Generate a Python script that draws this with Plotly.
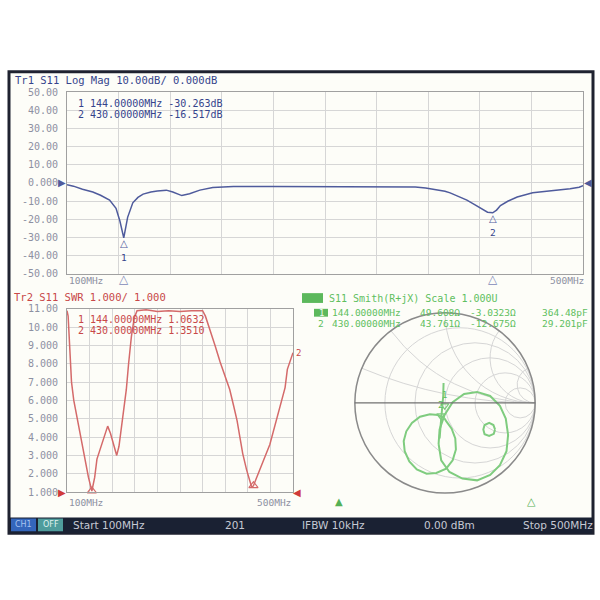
import numpy as np
import plotly.graph_objects as go

# ---------------- data ----------------
# Trace 1: S11 log magnitude (dB) vs frequency (MHz)
freq_logmag = [100, 105, 112, 120, 126, 133, 138, 141, 144, 147, 151, 155, 159, 165, 170, 177, 182, 189, 195,
               203, 213, 229, 260, 300, 340, 370, 378, 386, 393, 397, 404, 410, 416, 422, 426, 430, 433, 436, 442,
               449, 455, 461, 470, 482, 490, 497, 500]
s11_db = [-1.0, -1.8, -3.5, -5.0, -6.8, -9.5, -14, -21, -30.3, -19, -11, -8, -6.2, -5.0, -4.5, -4.0, -5.0, -7.0, -6.0,
          -4.0, -2.5, -2.0, -2.0, -2.0, -2.0, -2.2, -2.8, -3.6, -4.6, -5.5, -7.5, -9.5, -12, -14.6, -16.2, -16.5, -15.0, -12.5, -10,
          -7.8, -6.5, -5.5, -4.8, -4.0, -3.2, -2.4, -1.5]

# Trace 2: SWR vs frequency (MHz)
freq_swr = [100, 102, 105, 108, 112, 117, 123, 128, 132, 138,
            144, 149, 153, 158, 164, 172, 177, 182, 188, 192,
            196, 201, 205, 209, 214, 219, 224, 240, 260, 280,
            300, 320, 340, 345, 353, 362, 371, 380, 388, 395,
            401, 406, 411, 418, 424, 427, 430, 436, 442, 450,
            459, 468, 477, 486, 490, 495, 500]
swr = [10.9, 10.6, 8.8, 7.0, 6.0, 5.2, 4.4, 3.6, 2.9, 1.8,
       1.06, 1.8, 2.8, 3.3, 3.8, 4.6, 4.2, 3.6, 3.0, 3.5,
       4.5, 5.6, 6.6, 8.0, 9.5, 10.5, 10.9, 10.95, 10.85, 10.9,
       10.85, 10.9, 10.9, 10.6, 9.9, 9.0, 8.1, 7.3, 6.6, 5.7,
       4.9, 4.0, 3.1, 2.2, 1.5, 1.25, 1.35, 1.8, 2.2, 2.9,
       3.6, 4.6, 5.6, 6.7, 7.7, 8.2, 8.6]

# Trace 3: S11 on Smith chart, reflection coefficient (None = pen lift)
gamma_re = [-0.016, -0.020, -0.031, -0.042, -0.052, -0.060, None,
            -0.005, -0.078, -0.168, -0.277, -0.367, -0.429, -0.458, -0.447, -0.396, -0.313, -0.204, -0.096,
            0.013, 0.085, 0.121, 0.114, 0.074, 0.013, -0.005, None,
            -0.071, -0.060, -0.005, 0.085, 0.212, 0.356, 0.501, 0.609, 0.674, 0.700, 0.682, 0.609, 0.501,
            0.356, 0.193, 0.049, -0.042, -0.071, None,
            0.555, 0.537, 0.490, 0.439, 0.425, 0.439, 0.490, 0.541, 0.555]
gamma_im = [0.221, 0.077, -0.052, -0.173, -0.294, -0.395, None,
            -0.173, -0.133, -0.125, -0.153, -0.222, -0.315, -0.423, -0.536, -0.649, -0.738, -0.786, -0.778,
            -0.730, -0.637, -0.516, -0.395, -0.286, -0.202, -0.173, None,
            -0.456, -0.294, -0.133, 0.009, 0.099, 0.122, 0.077, -0.032, -0.173, -0.355, -0.536, -0.690, -0.798,
            -0.859, -0.839, -0.766, -0.637, -0.456, None,
            -0.294, -0.246, -0.222, -0.246, -0.294, -0.347, -0.367, -0.343, -0.294]

# Marker readouts
marker_ids = ["1", "2"]
marker_freq = [144, 430]
marker_db = [-30.263, -16.517]
marker_swr = [1.0632, 1.3510]
marker_r_ohm = [49.608, 43.761]
marker_x_ohm = [-3.0323, -12.675]
marker_x_txt = ["-3.0323Ω", "-12.675Ω"]
marker_cap = ["364.48pF", "29.201pF"]

logmag_ticks = [50, 40, 30, 20, 10, 0, -10, -20, -30, -40, -50]
logmag_ticklabels = ["50.00", "40.00", "30.00", "20.00", "10.00", "0.000",
                     "-10.00", "-20.00", "-30.00", "-40.00", "-50.00"]
swr_ticks = [11, 10, 9, 8, 7, 6, 5, 4, 3, 2, 1]
swr_ticklabels = ["11.00", "10.00", "9.000", "8.000", "7.000", "6.000",
                  "5.000", "4.000", "3.000", "2.000", "1.000"]
freq_grid = [100, 140, 180, 220, 260, 300, 340, 380, 420, 460, 500]
status_texts = ["Start 100MHz", "201", "IFBW 10kHz", "0.00 dBm", "Stop 500MHz"]

# ---------------- style ----------------
W, H = 600, 600
def P(px):
    return px / W
def Q(py):
    return 1 - py / H

BLUE = "#4f5b9c"
BLUE_TXT = "#35448c"
RED = "#d46a6a"
RED_TXT = "#c84848"
GREEN = "#7fcc7f"
GREEN_TXT = "#5fbf5f"
GRID = "#d6d6d6"
AXLINE = "#a0a0a0"
TICK = "#8d90a2"
MONO = "DejaVu Sans Mono"
SANS = "DejaVu Sans"

fig = go.Figure()

fig.add_trace(go.Scatter(x=freq_logmag, y=s11_db, mode="lines", line=dict(color=BLUE, width=1.5),
                         xaxis="x", yaxis="y", hoverinfo="skip", showlegend=False))
fig.add_trace(go.Scatter(x=freq_swr, y=swr, mode="lines", line=dict(color=RED, width=1.5),
                         xaxis="x2", yaxis="y2", hoverinfo="skip", showlegend=False))
# SWR marker triangles
fig.add_trace(go.Scatter(x=marker_freq, y=marker_swr, mode="markers", xaxis="x2", yaxis="y2",
                         marker=dict(symbol="triangle-up-open", size=8, color=RED, line=dict(width=1.2)),
                         cliponaxis=False, hoverinfo="skip", showlegend=False))

g = np.array([np.nan if v is None else v for v in gamma_re]) + 1j * np.array(
    [np.nan if v is None else v for v in gamma_im])
z = (1 + g) / (1 - g)
fig.add_trace(go.Scattersmith(real=z.real, imag=z.imag, mode="lines", subplot="smith",
                              line=dict(color=GREEN, width=2), hoverinfo="skip", showlegend=False,
                              connectgaps=False))
mz_r = [r / 50 for r in marker_r_ohm]
mz_x = [x / 50 for x in marker_x_ohm]
fig.add_trace(go.Scattersmith(real=mz_r, imag=mz_x, mode="markers+text", subplot="smith",
                              marker=dict(symbol="triangle-down-open", size=7, color=GREEN, line=dict(width=1.2)),
                              text=marker_ids, textposition="top center",
                              textfont=dict(family=MONO, size=9, color=GREEN_TXT),
                              hoverinfo="skip", showlegend=False))

ann = []
def txt(x, y, s, color, size=10, family=MONO, xanchor="left", xref="paper", yref="paper", **kw):
    ann.append(dict(x=x, y=y, xref=xref, yref=yref, text=s, showarrow=False, xanchor=xanchor,
                    yanchor=kw.pop("yanchor", "middle"), font=dict(family=family, size=size, color=color), **kw))

# titles and marker readouts
txt(P(13), Q(76), "Tr1 S11 Log Mag 10.00dB/ 0.000dB", BLUE_TXT, 10.5)
for i, m in enumerate(marker_ids):
    txt(P(76), Q(100 + 11 * i), f"{m} {marker_freq[i]:.5f}MHz {marker_db[i]:.3f}dB", BLUE_TXT, 10)
txt(P(12), Q(297), "Tr2 S11 SWR 1.000/ 1.000", RED_TXT, 10.5)
for i, m in enumerate(marker_ids):
    txt(P(76), Q(320 + 11 * i), f"{m} {marker_freq[i]:.5f}MHz {marker_swr[i]:.4f}", RED_TXT, 10)
txt(P(327), Q(298), "S11 Smith(R+jX) Scale 1.000U", GREEN_TXT, 10)
for i, m in enumerate(marker_ids):
    yy = Q(313 + 11 * i)
    if i == 0:
        txt(P(321), yy, m, "#eefaee", 9, xanchor="center")
    else:
        txt(P(321), yy, m, GREEN_TXT, 9.5, xanchor="center")
    txt(P(330), yy, f"{marker_freq[i]:.5f}MHz", GREEN_TXT, 9.5)
    txt(P(418), yy, f"{marker_r_ohm[i]:.3f}Ω", GREEN_TXT, 9.5)
    txt(P(468), yy, marker_x_txt[i], GREEN_TXT, 9.5)
    txt(P(540), yy, marker_cap[i], GREEN_TXT, 9.5)

# frequency span labels
txt(P(67), Q(280), "100MHz", TICK, 9.5)
txt(P(586), Q(280), "500MHz", TICK, 9.5, xanchor="right")
txt(P(67), Q(507), "100MHz", TICK, 9.5)
txt(P(293), Q(507), "500MHz", TICK, 9.5, xanchor="right")

# marker symbols on traces
for i, m in enumerate(marker_ids):
    txt(marker_freq[i], marker_db[i], "△", BLUE, 10, family=SANS, xanchor="center", xref="x", yref="y",
        yanchor="top", yshift=2)
    txt(marker_freq[i], marker_db[i], m, BLUE_TXT, 9.5, xanchor="center", xref="x", yref="y",
        yanchor="top", yshift=-12)
    txt(marker_freq[i], Q(279), "△", "#7e88b8", 12, family=SANS, xanchor="center", xref="x")
txt(freq_swr[-1], swr[-1], "2", RED_TXT, 9, xanchor="left", xref="x2", yref="y2", xshift=1)

# reference position arrows
txt(P(62), 0, "▶", BLUE, 10, family=SANS, xanchor="center", yref="y")
txt(P(588), 0, "◀", BLUE, 10, family=SANS, xanchor="center", yref="y")
txt(P(62), 1, "▶", "#d03a3a", 10, family=SANS, xanchor="center", yref="y2")
txt(P(297), 1, "◀", "#d03a3a", 10, family=SANS, xanchor="center", yref="y2")
txt(P(339), Q(506), "▲", "#55b055", 10, family=SANS, xanchor="center")
txt(P(531), Q(506), "△", "#55b055", 11, family=SANS, xanchor="center")

# status bar
txt(P(23.5), Q(529.5), "CH1", "#a8c4f0", 8, family=SANS, xanchor="center")
txt(P(50.5), Q(529.5), "OFF", "#dff2ee", 8, family=SANS, xanchor="center")
status_x = [71, 223, 300, 422, 521]
for sx, s in zip(status_x, status_texts):
    txt(P(sx), Q(530), s, "#c6c9d4", 10.5, family=SANS)

shapes = [
    dict(type="rect", xref="paper", yref="paper", x0=P(9), x1=P(593), y0=Q(538), y1=Q(67),
         line=dict(color="#1f2230", width=3), fillcolor="#fdfdf8", layer="below"),
    dict(type="rect", xref="paper", yref="paper", x0=P(10), x1=P(592), y0=Q(538), y1=Q(522),
         line=dict(width=0), fillcolor="#1a2133", layer="above"),
    dict(type="rect", xref="paper", yref="paper", x0=P(11), x1=P(36), y0=Q(536), y1=Q(523),
         line=dict(width=0), fillcolor="#3466bb", layer="above"),
    dict(type="rect", xref="paper", yref="paper", x0=P(38), x1=P(63), y0=Q(536), y1=Q(523),
         line=dict(width=0), fillcolor="#4f9c9c", layer="above"),
    dict(type="rect", xref="paper", yref="paper", x0=P(302), x1=P(323), y0=Q(303), y1=Q(293),
         line=dict(width=0), fillcolor="#5cb85c", layer="above"),
    dict(type="rect", xref="paper", yref="paper", x0=P(314), x1=P(328), y0=Q(317), y1=Q(309),
         line=dict(width=0), fillcolor="#5cb85c", layer="below"),
]

axis_common = dict(showgrid=True, gridcolor=GRID, gridwidth=1, showline=True, mirror=True, linecolor=AXLINE,
                   linewidth=1, zeroline=False, ticks="", fixedrange=True)

fig.update_layout(
    width=W, height=H, autosize=False, margin=dict(l=0, r=0, t=0, b=0),
    paper_bgcolor="white", plot_bgcolor="rgba(0,0,0,0)", showlegend=False,
    xaxis=dict(domain=[P(67), P(583)], range=[100, 500], tickvals=freq_grid, showticklabels=False,
               anchor="y", **axis_common),
    yaxis=dict(domain=[Q(273), Q(88)], range=[-50, 50], tickvals=logmag_ticks, ticktext=logmag_ticklabels,
               tickfont=dict(family=MONO, size=10, color=TICK), ticklabelstandoff=6, anchor="x", **axis_common),
    xaxis2=dict(domain=[P(67), P(293)], range=[100, 500], tickvals=freq_grid, showticklabels=False,
                anchor="y2", **axis_common),
    yaxis2=dict(domain=[Q(496), Q(309)], range=[1, 11], tickvals=swr_ticks, ticktext=swr_ticklabels,
                tickfont=dict(family=MONO, size=10, color=TICK), ticklabelstandoff=6, anchor="x2", **axis_common),
    smith=dict(domain=dict(x=[P(352), P(538)], y=[Q(497), Q(313)]), bgcolor="rgba(0,0,0,0)",
               realaxis=dict(showticklabels=False, ticks="", gridcolor=GRID, linecolor="#707070", linewidth=1.3,
                             tickvals=[0.2, 0.5, 1, 2, 5]),
               imaginaryaxis=dict(showticklabels=False, ticks="", gridcolor=GRID, linecolor="#8a8a8a",
                                  linewidth=1.5, tickvals=[0.2, 0.5, 1, 2, 5])),
    annotations=ann, shapes=shapes,
)

fig.write_html("out.html", config={"displayModeBar": False},
               post_script="document.documentElement.style.margin='0';document.body.style.margin='0';"
                           "document.body.style.overflow='hidden';")
